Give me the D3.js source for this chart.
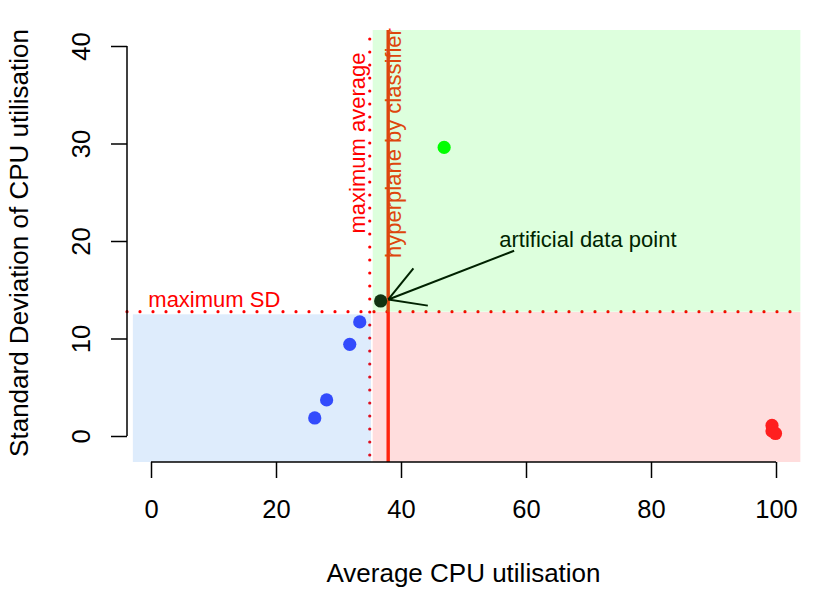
<!DOCTYPE html>
<html>
<head>
<meta charset="utf-8">
<script src="https://cdn.jsdelivr.net/npm/d3@7"></script>
<style>
  body { margin: 0; background: #fff; }
  svg { display: block; font-family: "Liberation Sans", Arial, Helvetica, sans-serif; }
</style>
</head>
<body>
<svg width="830" height="589"></svg>
<script>
const blueX = [26.2, 28.1, 31.8, 33.4];
const blueY = [1.85, 3.7, 9.4, 11.7];
const redX = [99.36, 99.36, 99.92];
const redY = [1.08, 0.51, 0.26];
const greenX = [46.9];
const greenY = [29.6];
const artX = [36.75];
const artY = [13.85];

const maxAverage = 35.0;
const maxSD = 12.75;
const hyperplane = 37.95;

const xTicks = [0, 20, 40, 60, 80, 100];
const yTicks = [0, 10, 20, 30, 40];

const svg = d3.select("svg");
const x = d3.scaleLinear().domain([-4, 104]).range([126, 801]);
const y = d3.scaleLinear().domain([-2.667, 41.641]).range([462, 30]);

const plot = svg.append("g");

// threshold lines
plot.append("line")
  .attr("x1", x(maxAverage)).attr("x2", x(maxAverage))
  .attr("y1", y.range()[1] + 9).attr("y2", y.range()[0])
  .attr("stroke", "#ff0000").attr("stroke-width", 3.2)
  .attr("stroke-dasharray", "0,13").attr("stroke-linecap", "round");
plot.append("line")
  .attr("x1", x.range()[0] + 1).attr("x2", x.range()[1])
  .attr("y1", y(maxSD)).attr("y2", y(maxSD))
  .attr("stroke", "#ff0000").attr("stroke-width", 3.2)
  .attr("stroke-dasharray", "0,13").attr("stroke-linecap", "round");
plot.append("line")
  .attr("x1", x(hyperplane)).attr("x2", x(hyperplane))
  .attr("y1", y.range()[1]).attr("y2", y.range()[0])
  .attr("stroke", "#ff2a10").attr("stroke-width", 3.4);

// labels of the lines
plot.append("text")
  .attr("transform", `translate(${x(34.24)},${y(30.05)}) rotate(-90)`)
  .attr("text-anchor", "middle").attr("fill", "#ff0000")
  .attr("font-size", 22).text("maximum average");
plot.append("text")
  .attr("transform", `translate(${x(40.0)},${y(18.26)}) rotate(-90)`)
  .attr("text-anchor", "start").attr("fill", "#ff2a10")
  .attr("font-size", 22).text("hyperplane by classifier");
plot.append("text")
  .attr("x", x(-0.43)).attr("y", y(13.2))
  .attr("fill", "#ff0000").attr("font-size", 22).text("maximum SD");

// points
function dots(xs, ys, col) {
  plot.selectAll(null)
    .data(xs.map((v, i) => [v, ys[i]]))
    .enter().append("circle")
    .attr("cx", d => x(d[0])).attr("cy", d => y(d[1]))
    .attr("r", 6.6).attr("fill", col);
}
dots(blueX, blueY, "#3a46ff");
dots(redX, redY, "#ff2424");
dots(greenX, greenY, "#00ff00");
dots(artX, artY, "#141414");

// arrow to the artificial point
const tip = [x(37.97), y(14.0)];
const tail = [x(58.1), y(19.0)];
const ang = Math.atan2(tail[1] - tip[1], tail[0] - tip[0]);
const headLen = 40, spread = Math.PI / 6;
const arrow = plot.append("g").attr("stroke", "#000").attr("stroke-width", 2).attr("fill", "none");
arrow.append("line").attr("x1", tail[0]).attr("y1", tail[1]).attr("x2", tip[0]).attr("y2", tip[1]);
[ang - spread, ang + spread].forEach(a => {
  arrow.append("line")
    .attr("x1", tip[0]).attr("y1", tip[1])
    .attr("x2", tip[0] + headLen * Math.cos(a))
    .attr("y2", tip[1] + headLen * Math.sin(a));
});
plot.append("text")
  .attr("x", x(69.9)).attr("y", y(19.4))
  .attr("text-anchor", "middle").attr("fill", "#000")
  .attr("font-size", 22).text("artificial data point");

// translucent regions laid over everything
const regions = plot.append("g");
regions.append("rect")
  .attr("x", x(-2.9)).attr("y", y(12.48))
  .attr("width", x(35.2) - x(-2.9)).attr("height", y(-2.667) - y(12.48))
  .attr("fill", "rgb(7,112,232)").attr("fill-opacity", 0.133);
regions.append("rect")
  .attr("x", x(35.47)).attr("y", y(41.641))
  .attr("width", x(103.9) - x(35.47)).attr("height", y(12.75) - y(41.641))
  .attr("fill", "rgb(0,255,0)").attr("fill-opacity", 0.133);
regions.append("rect")
  .attr("x", x(35.47)).attr("y", y(12.72))
  .attr("width", x(103.9) - x(35.47)).attr("height", y(-2.667) - y(12.72))
  .attr("fill", "rgb(255,0,0)").attr("fill-opacity", 0.133);

// axes, drawn R style
const xAxis = svg.append("g")
  .attr("transform", `translate(0,${y.range()[0]})`)
  .call(d3.axisBottom(x).tickValues(xTicks).tickSize(16).tickPadding(22).tickSizeOuter(0));
xAxis.select(".domain").attr("d", `M${x(0)},0H${x(100)}`).attr("stroke-width", 1.5);
xAxis.selectAll(".tick line").attr("stroke-width", 1.5);
xAxis.selectAll("text").attr("font-size", 25.5).attr("fill", "#000")
  .attr("font-family", "Liberation Sans, Arial, sans-serif");

const yAxis = svg.append("g")
  .attr("transform", `translate(127,0)`)
  .call(d3.axisLeft(y).tickValues(yTicks).tickSize(16).tickSizeOuter(0));
yAxis.select(".domain").attr("d", `M0,${y(0)}V${y(40)}`).attr("stroke-width", 1.5);
yAxis.selectAll(".tick line").attr("stroke-width", 1.5);
yAxis.selectAll("text")
  .attr("x", null).attr("dy", null)
  .attr("transform", "translate(-37,0) rotate(-90)")
  .attr("text-anchor", "middle")
  .attr("font-size", 25.5).attr("fill", "#000")
  .attr("font-family", "Liberation Sans, Arial, sans-serif");

svg.append("text")
  .attr("x", (x.range()[0] + x.range()[1]) / 2).attr("y", 582)
  .attr("text-anchor", "middle").attr("font-size", 26)
  .text("Average CPU utilisation");
svg.append("text")
  .attr("transform", `translate(28,${(y.range()[0] + y.range()[1]) / 2 - 3}) rotate(-90)`)
  .attr("text-anchor", "middle").attr("font-size", 26)
  .text("Standard Deviation of CPU utilisation");
</script>
</body>
</html>
